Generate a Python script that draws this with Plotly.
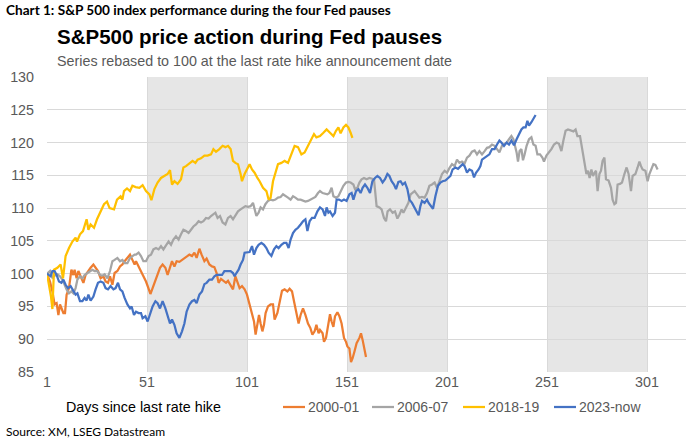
import plotly.graph_objects as go

# ---------------- data ----------------
days_2000 = [1,2.5,3.7,4.8,5.8,6.7,7.5,8.2,9.2,10,10.8,12,13.2,14.2,14.8,15.8,16.7,17.8,19.2,20.3,21.5,22.8,24.2,25.3,26.5,27.8,29.2,30.3,31.5,32.5,33.7,34.8,36.2,37.5,38.7,39.8,41.2,42.5,43.7,44.8,
             45.5,46.8,48,49.2,50.5,51.7,52.7,53.8,55.2,56.3,57.5,58.8,60.2,61.3,62.5,63.5,64.7,65.8,67.2,68.5,69.7,70.8,72.2,73.5,74.7,75.8,77.2,78.3,79.7,80.8,82.2,83.5,84.7,85.8,86.8,88,89.2,90.5,
             91.5,92.8,94,95.2,96.2,97.3,98.5,99.8,101,102.3,103.5,104.5,105.3,106.2,107,107.8,108.7,109.5,110.3,111.5,112.8,114,114.8,116.2,117.3,118.5,119.8,121.2,122.3,123.5,124.5,125.7,126.8,127.8,129,130.2,131.5,132.7,133.7,134.8,135.7,136.8,
             137.5,138.8,139.5,140.5,141.7,142.5,143.3,144.2,145,146.2,147.2,148.3,149.5,150.5,151.2,152.2,153,153.8,154.7,155.8,157.2,158,158.8,159.7,160.5]
vals_2000 = [100,98.8,97.3,95.3,95.5,93.7,95.3,94.7,94,94,96.8,97.8,100.6,99.8,100.6,99.3,100.4,99.6,98.6,99.8,100.4,100.9,101.4,100.9,100.4,99.3,99.6,98.8,98.6,99.6,98.3,100.1,100.4,101.1,101.4,101.9,102.4,102.9,102.1,101.4,
             101.9,101.1,100.4,99.8,98.8,97.8,96.9,97.8,99.1,100.1,100.9,101.4,100.9,99.8,101.1,101.9,101.1,101.9,101.8,102.1,102.4,102.7,102.9,102.7,103.2,102.4,103.8,102.9,101.9,102.3,101.4,101.1,101,100.1,98.6,99.2,98.9,98.6,
             98.9,98.3,97.6,99.6,98.6,97.8,98.1,97.6,96.8,95.3,94.2,92.7,90.7,92.2,93.7,92.4,91.2,92.2,94,95,95.3,95.3,93,94,95.8,97.4,97.6,97.3,97.7,97.3,95.8,94.2,92.4,93.7,94.7,93.7,92.4,91.7,90.7,91.2,92.2,90.9,
             91.4,90.9,89.6,90.2,92.2,93.8,92.7,91.9,93.5,94.1,93.5,92.4,90.2,89.6,88.9,88.6,86.5,87.1,88.1,89.4,90.2,90.9,89.9,88.6,87.3]

days_2006 = [1,2.5,3.7,4.8,6.2,7.5,8.7,9.8,10.8,12,13.2,14.2,15.3,16.2,17.5,18.7,19.8,21.2,22.5,23.7,24.8,26.2,27.5,28.7,29.8,31.2,32.5,33.7,34.8,36.2,37.5,38.7,39.8,41.2,42.5,43.7,44.8,
             45.5,46.8,48,49.2,50.5,51.8,53,54.2,55.5,56.8,58,59.2,60.5,61.8,63,64.2,65.5,66.8,68,69.2,70.5,71.8,73,74.2,75.5,76.8,78,79.2,80.5,81.8,83,84.2,85.2,86.3,87.5,88.8,90.2,
             91.5,92.8,94,95.2,96.5,97.8,99,100.2,101.5,102.8,104,104.8,105.7,106.8,107.8,109,110.2,111.5,112.8,114,115.2,116.5,117.8,119,120.2,121.5,122.8,124,125.2,126.5,127.8,129,130.2,131.5,132.8,134,135.2,136.5,
             137.5,138.8,140,141.2,142.2,143.3,144.2,145.5,146.7,147.8,149.2,150.5,151.7,152.8,154.2,155,156.2,157.2,158.3,159.5,160.8,162.2,163.3,164.5,165.8,167.2,168.3,169.5,170.5,171.3,172.5,173.8,175,176.2,177.2,178.3,179.2,180.5,181.7,182.8,
             184.8,186,187.2,188.5,189.8,191,192.2,193.5,194.8,196,197.2,198.5,199.8,201,202.2,203.5,204.8,206,207.2,208.5,209.8,211,212.2,213.5,214.8,216,217.2,218.5,219.8,221,222.2,223.5,224.8,226,227.2,228.5,
             229.5,230.8,232,233.2,234.2,235,235.8,236.5,237.3,238.2,239,239.8,240.8,242,243.2,244.2,245.3,246.2,247.5,248.7,249.5,250.7,252,253.2,254.5,255.8,257,258.2,259.2,260.3,261.5,262.8,264.2,265.3,266.2,267.5,268.2,269,269.8,270.7,271.5,272.3,273.2,274,274.8,
             275.5,276.3,277.2,278,278.8,279.7,280.5,281.8,283,283.8,284.7,285.5,286.3,287.5,288.5,289.7,290.8,291.8,293,293.8,295.2,296.3,297.2,298,298.8,300.2,301.3,302.2,303,304.2,305.2,306.3]
vals_2006 = [100,100.4,99.4,99.7,99.9,99.6,99.1,98.3,97.6,97,97.3,97,97.8,99.1,99.6,99.3,99.8,100.1,100.4,100.6,100.4,100.4,99.8,99.7,99.9,99.3,100.4,101.9,102.1,102.4,101.9,102.1,101.6,101.6,102.4,102.7,102.9,
             102.9,103.2,102.7,101.9,101.9,102.7,102.9,103.7,103.9,103.7,104.2,103.7,104.3,104.9,104.4,105.2,105.7,105.2,106,106.7,106.5,106.2,106.7,107.2,107.5,108,107.8,108,108.5,108.4,108.8,109.1,109.3,108.5,108.8,107.8,107.5,
             108.5,108.8,108.3,108.8,109.5,109.8,110.1,110.3,110.2,110.3,110.8,109.8,108.8,109.3,110.1,109.8,110.6,111.1,111.3,111.2,111.3,111.6,111.7,112.1,111.8,111.6,111.3,111.8,111.6,111.3,111.3,111.1,111,111.1,111.3,111.6,111.7,112.3,
             112.6,112.3,112.2,112.1,112.3,113.1,111.8,111.6,111.8,112.6,113.4,113.9,114,113.9,113.6,112.9,113.1,113.9,114.4,114.6,114.4,114.6,114.5,114.4,110.3,110.1,109.8,108.5,108,109.5,109.8,109.3,109.5,108.4,109,109.8,109.3,110.1,110.8,112.1,
             112.6,112.1,111.6,111.7,111.6,112.3,113.4,113.6,113.9,113.1,114.1,115.2,115.7,115.4,116.1,116.7,116.4,117.4,116.9,117.1,116.8,117.7,118,118.6,118.8,118.2,118.7,118.2,118.7,119.2,119.3,119.7,119.5,119,118.5,119.5,
             119.7,120,120.5,121,120.5,119.5,118.5,117.1,118.7,119,117.3,118.2,119.5,120.5,120.8,119.7,119.5,118.2,118.2,117.7,117.1,118,118.5,119,119.7,120,119.8,118.7,120.3,121.8,122,121.9,121.7,122,121,121,119.7,118.7,116.7,115.2,115.7,114.6,115.9,114.9,115.4,
             115.7,112.6,115.2,115.7,117.2,117.7,114.4,114.2,113.1,111.3,110.6,110.8,113.6,113.7,113.9,115.2,116.2,115.2,112.6,114.9,115.2,116.2,117.1,116.4,115.9,115.7,114.1,115.2,115.9,116.7,116.6,115.9]

days_2018 = [1,3,3.7,4.5,6.2,7.8,9,10.3,12,13.7,15.3,16,17.5,19,20.8,21.7,22.8,24.5,26,27.8,29.5,31,32.3,34.5,36,37.8,38.7,39.5,41,42.5,43.7,45.3,
             47.2,48.8,50.5,52.2,53.2,54.7,56.3,58,59.7,61.3,62.5,63.5,64.7,66.3,68,69.2,70.5,72.2,73.8,75.2,76.3,78,79.7,81.3,83,84.2,85.5,87.2,88.8,90.2,
             91.5,92.8,94,95.2,96.5,97.8,98.5,99.8,101,102.3,103.5,104.8,106.2,107.3,109,110.7,111.8,112.8,114,115.2,116.5,118.2,119.8,121.5,122.8,124.8,126.5,128.2,129.8,131.5,133.2,134.5,135.7,
             137.5,139.2,140.8,142.5,144.2,145.5,146.7,147.8,149.2,150.5,151.7,152.8,153.7]
vals_2018 = [100,96.5,94.6,100.6,100.9,101.4,99.3,102.7,103.9,104.9,105.5,104.9,106,106.5,108.3,106.7,107.5,107,108.3,109.5,110.6,111,110,109.8,111.3,111.8,111.3,112.6,113,112.6,113.4,113.2,
             113.1,113.5,112.6,112.1,111.2,112.9,113.9,114.6,114.9,115.2,115.8,113.6,114.1,113.7,114.4,116.2,116.4,116.8,117.2,116.9,117.4,117.6,118,118,118.2,119,118.6,119,119.5,119.3,
             119.5,119,117.2,116.9,116.7,115.2,114.1,115.2,115.9,116.7,115.9,115.4,114.6,114.1,113.1,112.6,111.3,111.6,114.1,115.4,116.7,116.9,117.2,116.9,118,119.5,119.3,118.2,118.5,119.5,120.5,121.3,120.8,
             121,121.5,122,121.5,121,121.8,122.3,121.4,122.3,122.7,122.3,121.5,120.7]

days_2023 = [1,2,2.8,3.7,4.8,5.8,7,8.2,9.2,10.3,11.5,12.8,14.2,15.3,16.2,17.5,18.7,19.8,20.8,21.7,22.8,24.2,25.3,26.5,27.8,29.2,30.3,31.5,32.8,34.2,35.3,36.5,37.5,38.7,39.8,41.2,42.5,43.3,44.5,
             45.5,46.8,48,48.8,50.2,51.3,52.5,53.8,55.2,56.3,57.5,58.8,60.2,61.3,62.5,63.5,64.7,65.8,67.2,68.5,69.7,70.8,72.2,73.5,74.7,75.8,77.2,78.5,79.7,80.8,82.2,83.5,84.7,85.8,87.2,88.5,89.7,90.8,
             91.5,92.8,94,94.8,95.7,96.8,97.8,99,99.8,101,102.3,103.5,104.5,105.7,106.8,108.2,109.5,110.7,111.8,113.2,114.5,115.7,116.8,118.2,119.5,120.7,121.8,122.8,124,125.2,126.5,127.8,129,130.2,131.2,132.3,133.5,134.8,136.2,
             137.5,138.8,140,140.8,141.7,142.5,143.8,145,145.8,147,148.3,149.5,150.8,152.2,153.3,154.2,155.5,156.7,157.8,158.8,160,161.2,162.5,163.7,165,166.2,167.5,168.8,170,171.2,172.2,173.3,174.5,175.5,176.7,177.8,178.8,180,181.2,182.2,
             183.5,184.8,186,186.8,187.7,188.5,189.8,191,191.8,193.2,194,195.2,196.5,197.7,198.8,200.2,201.5,202.7,203.8,205.2,206.5,207.7,208.8,209.8,211,212.2,213.5,214.5,215.5,216.8,217.7,218.5,219.8,221,222.2,223.5,224.8,226,227.2,228.2,
             229.5,230.8,232,233.2,234.5,235.8,237,238.2,239.2,240.3,241.2,242,243.2,244.2,245.3]
vals_2023 = [100,99.8,99.6,100.4,100.4,99.8,98.8,98.6,99.1,98.3,97.8,98.1,97.3,96.8,97,95.8,95.8,96.3,95.9,96.8,95.9,96.5,97.6,98.6,98.8,98.6,97.8,97.6,98.1,97.6,97.8,98.6,97.6,97.3,96.3,95.3,94.7,95,93.7,
             94.2,94,94,93.2,93.5,92.7,94,95,95.8,95.5,94.7,95.8,94.7,93.5,92.4,93,92.2,90.9,90.2,91.2,92.4,94.2,95.3,95.8,96,95.5,96.8,97.3,98.4,98.6,99.1,99.1,99.6,99.8,99.8,99.8,100.4,100.4,
             100.4,100.4,100.1,99.6,100.1,100.6,101.4,102.1,103.2,103.2,103.3,104.2,102.9,103.9,104.4,104.7,104.4,103.9,103.2,102.7,103.7,104.2,103.9,104.4,104.7,104.7,103.9,105.2,106.2,106.7,107,107.5,108,108.3,106.5,108,108.5,108.5,109.5,
             110.1,109.8,108.8,110.1,109.3,109.5,108.8,109.3,111.3,111.3,111.1,111.3,111.1,112.1,112.3,111.3,112.6,112.9,112.3,113.1,113.6,113.1,112.3,114.1,114.6,114.9,114.6,113.9,114.4,115.2,114.9,114.1,113.6,112.9,114,114.1,113.6,113.9,112.9,111.3,
             110.8,110.1,109.5,108.9,110.3,111.1,110.8,111.3,110.8,110.2,109.9,111.8,113.4,113.9,114.1,114.2,114.6,114.9,115.9,116.2,116,116.3,116.7,116.4,115.4,115.9,115.7,114.7,115.4,115.9,116.4,117.4,117.7,118,118.2,119,119,119.7,120.3,120,
             119.5,120,119.7,120.3,119.6,120.5,121.3,122,122.3,122.3,123.3,122.6,123.1,123.6,124.2]

series_names = ["2000-01", "2006-07", "2018-19", "2023-now"]
pause_bands = [(51, 101), (151, 201), (251, 301)]
x_ticks = [1, 51, 101, 151, 201, 251, 301]
y_ticks = [85, 90, 95, 100, 105, 110, 115, 120, 125, 130]

for d, v in [(days_2000, vals_2000), (days_2006, vals_2006), (days_2018, vals_2018), (days_2023, vals_2023)]:
    assert len(d) == len(v), (len(d), len(v))

# ---------------- styling ----------------
colors = ["#ED7D31", "#A5A5A5", "#FFC000", "#4472C4"]
W, H = 696, 446
L, R, T, B = 47, 10, 77, 74
PW, PH = W - L - R, H - T - B

def px(xp):
    return (xp - L) / PW

def py(yp):
    return (H - B - yp) / PH

fig = go.Figure()
for name, d, v, c in zip(series_names,
                         [days_2000, days_2006, days_2018, days_2023],
                         [vals_2000, vals_2006, vals_2018, vals_2023], colors):
    fig.add_trace(go.Scatter(x=d, y=v, mode="lines", name=name, showlegend=False,
                             line=dict(color=c, width=2.25)))

for x0, x1 in pause_bands:
    fig.add_shape(type="rect", xref="x", yref="paper", x0=x0, x1=x1, y0=0, y1=1,
                  fillcolor="#E6E6E6", line=dict(width=0), layer="below")

arial = "Liberation Sans, Arial, sans-serif"
calib = "Lato, Carlito, Calibri, sans-serif"
FS = 14.3

fig.update_layout(
    width=W, height=H,
    margin=dict(l=L, r=R, t=T, b=B, autoexpand=False),
    paper_bgcolor="white", plot_bgcolor="white",
    font=dict(family=arial, size=FS, color="#595959"),
    showlegend=False,
    xaxis=dict(range=[1, 320.5], tickvals=x_ticks, ticktext=[str(t) for t in x_ticks],
               showgrid=True, gridcolor="#D9D9D9", gridwidth=1, zeroline=False,
               showline=False, ticks="", tickfont=dict(size=FS, color="#595959")),
    yaxis=dict(range=[85, 130], tickvals=y_ticks, showgrid=True, gridcolor="#D9D9D9",
               gridwidth=1, zeroline=False, showline=False, ticks="",
               ticklabelstandoff=12, tickfont=dict(size=FS, color="#595959")),
)

# legend drawn as key lines + labels (positions in pixels)
legend_line_x = [283, 372, 463, 554]
LEG_Y = 407
for name, c, lx in zip(series_names, colors, legend_line_x):
    fig.add_shape(type="line", xref="paper", yref="paper",
                  x0=px(lx), x1=px(lx + 22), y0=py(LEG_Y), y1=py(LEG_Y),
                  line=dict(color=c, width=2.25))
    fig.add_annotation(xref="paper", yref="paper", xanchor="left", yanchor="middle",
                       x=px(lx + 23), y=py(LEG_Y), text=name, showarrow=False,
                       font=dict(family=arial, size=14, color="#595959"))

annotations = [
    dict(text="<b>Chart 1: S&P 500 index performance during the four Fed pauses</b>",
         x=px(4), y=py(10), font=dict(family=calib, size=13.6, color="#000000")),
    dict(text="<b>S&P500 price action during Fed pauses</b>",
         x=px(55), y=py(37), font=dict(family=arial, size=20.5, color="#000000")),
    dict(text="Series rebased to 100 at the last rate hike announcement date",
         x=px(55), y=py(61), font=dict(family=arial, size=FS, color="#595959")),
    dict(text="Days since last rate hike",
         x=px(64), y=py(407), font=dict(family=arial, size=FS, color="#000000")),
    dict(text="Source: XM, LSEG Datastream",
         x=px(4), y=py(432), font=dict(family=calib, size=12, color="#000000")),
]
for a in annotations:
    fig.add_annotation(xref="paper", yref="paper", xanchor="left", yanchor="middle",
                       showarrow=False, **a)

fig.write_html("out.html", config={"displayModeBar": False},
               post_script="document.body.style.margin='0px';")
